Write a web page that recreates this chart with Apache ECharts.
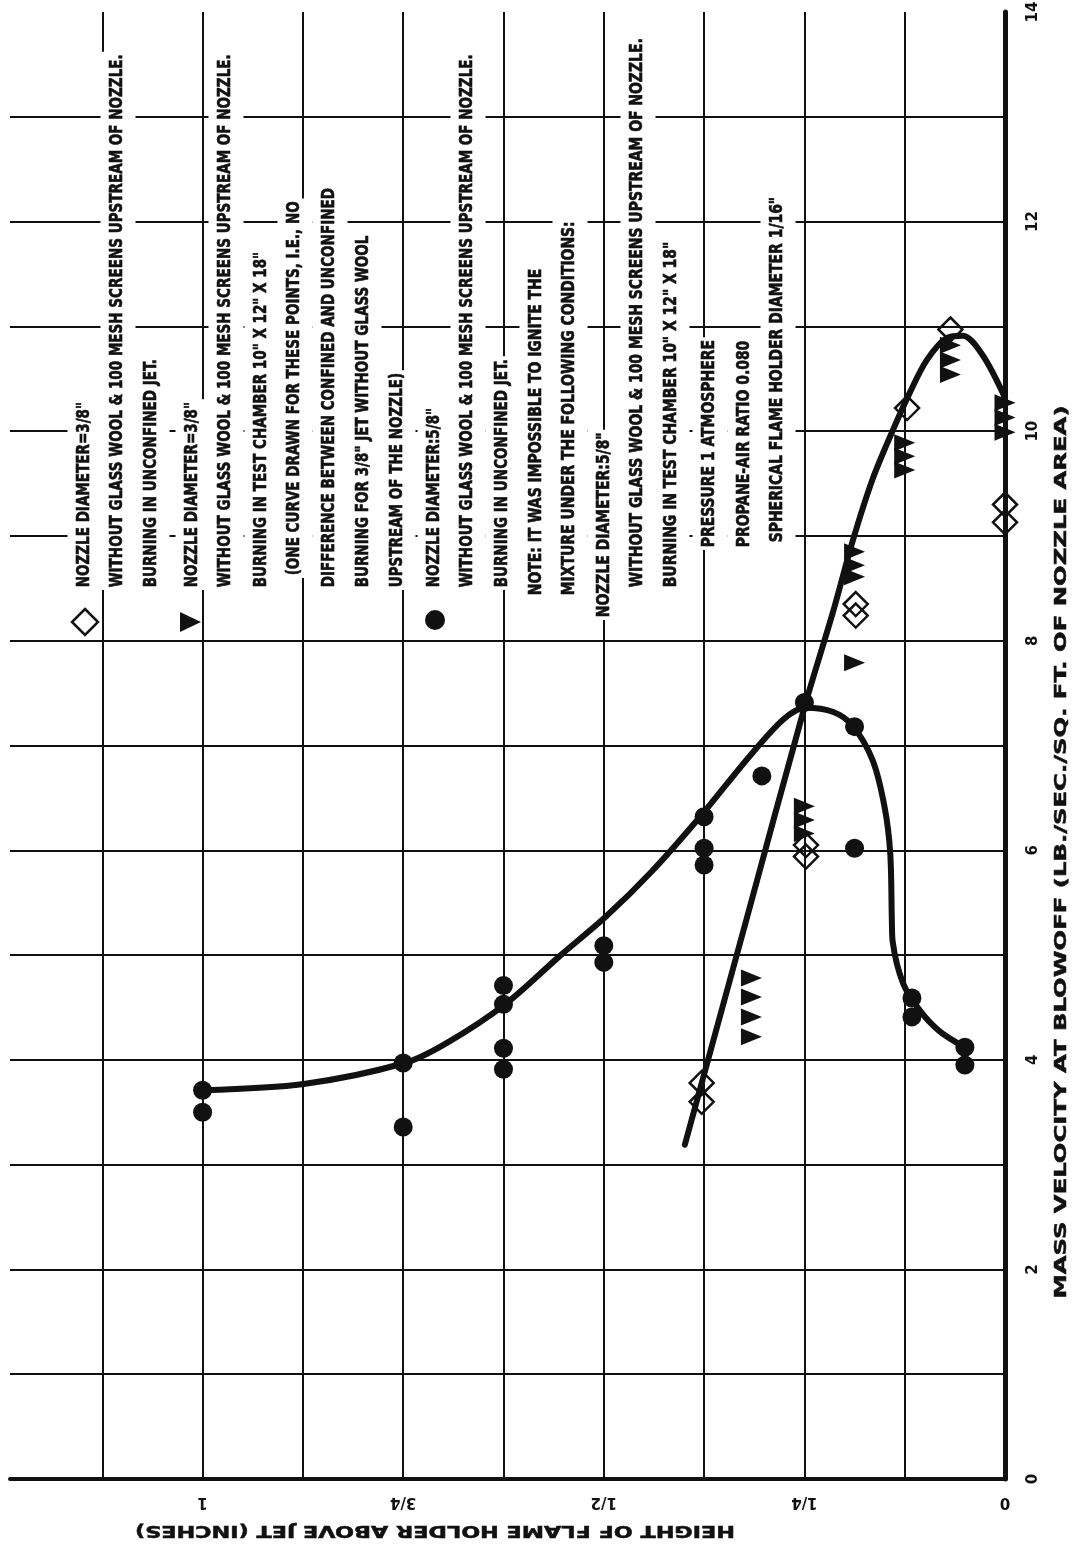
<!DOCTYPE html>
<html>
<head>
<meta charset="utf-8">
<title>Blowoff velocity vs. flame holder height</title>
<script src="https://cdn.jsdelivr.net/npm/echarts@6.0.0/dist/echarts.min.js"></script>
<style>
  html, body { margin: 0; padding: 0; background: #ffffff; }
  #chart { width: 1078px; height: 1547px; }
</style>
</head>
<body>
<div id="chart"></div>
<script>
// Height of flame holder above jet (inches) against mass velocity at blowoff.
// Points are [height, velocity].

const heightTicks = [0, 0.25, 0.5, 0.75, 1];
const heightTickLabels = ['0', '1/4', '1/2', '3/4', '1'];
const velocityTickStep = 2;

// Nozzle 3/8", unconfined jet (open diamonds)
const unconfined38 = [
  [0.068, 10.97], [0.122, 10.22], [0, 9.30], [0, 9.13],
  [0.186, 8.35], [0.186, 8.24], [0.248, 6.05], [0.248, 5.94],
  [0.378, 3.78], [0.378, 3.60]
];

// Nozzle 3/8", test chamber (filled triangles)
const chamber38 = [
  [0.068, 10.82], [0.068, 10.68], [0.068, 10.54],
  [0, 10.27], [0, 10.13], [0, 9.99],
  [0.125, 9.89], [0.125, 9.76], [0.125, 9.63],
  [0.1875, 8.85], [0.1875, 8.72], [0.1875, 8.61],
  [0.1875, 7.79],
  [0.25, 6.42], [0.25, 6.29], [0.25, 6.16],
  [0.316, 4.78], [0.316, 4.60], [0.316, 4.41], [0.316, 4.22]
];

// Nozzle 5/8", unconfined jet (filled circles)
const unconfined58 = [
  [1, 3.71], [1, 3.50],
  [0.75, 3.97], [0.75, 3.36],
  [0.625, 4.71], [0.625, 4.53], [0.625, 4.11], [0.625, 3.91],
  [0.5, 5.09], [0.5, 4.93],
  [0.375, 6.32], [0.375, 6.02], [0.375, 5.86],
  [0.303, 6.71],
  [0.25, 7.41],
  [0.1875, 7.18], [0.1875, 6.02],
  [0.116, 4.59], [0.116, 4.41],
  [0.05, 4.12], [0.05, 3.95]
];

// Faired curve through the 5/8" points
const curve58 = [
  [1.0, 3.71], [0.874, 3.77], [0.748, 3.97], [0.696, 4.16], [0.623, 4.53],
  [0.555, 4.99], [0.497, 5.37], [0.440, 5.80], [0.380, 6.32], [0.318, 6.90],
  [0.276, 7.25], [0.249, 7.36], [0.214, 7.32], [0.190, 7.19], [0.165, 6.86],
  [0.150, 6.41], [0.143, 5.97], [0.141, 5.33], [0.140, 5.13], [0.127, 4.73],
  [0.106, 4.47], [0.081, 4.27], [0.050, 4.12]
];

// Single curve for both 3/8" sets
const curve38 = [
  [0.399, 3.19], [0.324, 5.29], [0.249, 7.39], [0.2145, 8.27], [0.1895, 8.96],
  [0.1646, 9.55], [0.1397, 10.01], [0.1185, 10.37], [0.0973, 10.68],
  [0.0723, 10.89], [0.0524, 10.91], [0.0274, 10.72], [0, 10.32]
];

// Notes block: [line, column x, start y, letter scale] — each line reads bottom to top
const noteLines = [
  ['NOZZLE DIAMETER=3/8"', 85, 590, 1],
  ['WITHOUT GLASS WOOL & 100 MESH SCREENS UPSTREAM OF NOZZLE.', 118, 590, 1],
  ['BURNING IN UNCONFINED JET.', 152, 590, 1],
  ['NOZZLE DIAMETER=3/8"', 193, 590, 1],
  ['WITHOUT GLASS WOOL & 100 MESH SCREENS UPSTREAM OF NOZZLE.', 226, 590, 1],
  ['BURNING IN TEST CHAMBER 10" X 12" X 18"', 262, 590, 1],
  ['(ONE CURVE DRAWN FOR THESE POINTS, I.E., NO', 295, 578, 1],
  ['DIFFERENCE BETWEEN CONFINED AND UNCONFINED', 330, 590, 1],
  ['BURNING FOR 3/8" JET WITHOUT GLASS WOOL', 364, 590, 1],
  ['UPSTREAM OF THE NOZZLE)', 398, 590, 1],
  ['NOZZLE DIAMETER:5/8"', 435, 590, 1],
  ['WITHOUT GLASS WOOL & 100 MESH SCREENS UPSTREAM OF NOZZLE.', 468, 590, 1],
  ['BURNING IN UNCONFINED JET.', 503, 590, 1],
  ['NOTE: IT WAS IMPOSSIBLE TO IGNITE THE', 537, 598, 1.03],
  ['MIXTURE UNDER THE FOLLOWING CONDITIONS:', 570, 598, 1.03],
  ['NOZZLE DIAMETER:5/8"', 605, 620, 1.03],
  ['WITHOUT GLASS WOOL & 100 MESH SCREENS UPSTREAM OF NOZZLE.', 638, 590, 1.03],
  ['BURNING IN TEST CHAMBER 10" X 12" X 18"', 672, 590, 1.03],
  ['PRESSURE 1 ATMOSPHERE', 710, 550, 1.03],
  ['PROPANE-AIR RATIO 0.080', 745, 550, 1.03],
  ['SPHERICAL FLAME HOLDER DIAMETER 1/16"', 778, 545, 1.03]
];

const xTitle = 'MASS VELOCITY AT BLOWOFF (LB./SEC./SQ. FT. OF NOZZLE AREA)';
const yTitle = 'HEIGHT OF FLAME HOLDER ABOVE JET (INCHES)';

const INK = '#111111';
const NOTE_FONT = 'bold 17px "DejaVu Sans Condensed", "DejaVu Sans", sans-serif';
const TITLE_FONT = 'bold 16px "DejaVu Sans", sans-serif';

const measureCtx = document.createElement('canvas').getContext('2d');
function textWidth(str, font) {
  measureCtx.font = font;
  return measureCtx.measureText(str).width;
}

// Condensed lettering: the full-width note line runs about 533px
const noteScale = 533 / textWidth(noteLines[1][0], NOTE_FONT);

const noteGraphics = noteLines.map(([str, x, y, k]) => ({
  type: 'text',
  x: x,
  y: y,
  rotation: Math.PI / 2,
  scaleX: noteScale * k,
  z: 5,
  style: {
    text: str,
    font: NOTE_FONT,
    fill: INK,
    stroke: INK,
    lineWidth: 0.6,
    align: 'left',
    verticalAlign: 'middle',
    lineHeight: 17,
    backgroundColor: '#ffffff',
    padding: [9, 3]
  }
}));

const legendKeys = [
  { type: 'polygon', z: 6, shape: { points: [[85, 609], [98, 622], [85, 635], [72, 622]] },
    style: { fill: '#ffffff', stroke: INK, lineWidth: 2.5 } },
  { type: 'polygon', z: 6, shape: { points: [[180, 612], [201, 622], [180, 632]] },
    style: { fill: INK } },
  { type: 'circle', z: 6, shape: { cx: 435, cy: 620, r: 10 },
    style: { fill: INK } }
];

const titleGraphics = [
  {
    type: 'text', x: 1062, y: 852, rotation: Math.PI / 2, z: 5,
    scaleX: 893 / textWidth(xTitle, TITLE_FONT),
    style: { text: xTitle, font: TITLE_FONT, fill: INK, stroke: INK, lineWidth: 0.5,
             align: 'center', verticalAlign: 'middle' }
  },
  {
    type: 'text', x: 435, y: 1530, rotation: Math.PI, z: 5,
    scaleX: 600 / textWidth(yTitle, TITLE_FONT),
    style: { text: yTitle, font: TITLE_FONT, fill: INK, stroke: INK, lineWidth: 0.5,
             align: 'center', verticalAlign: 'middle' }
  }
];

const chart = echarts.init(document.getElementById('chart'), null, { renderer: 'canvas' });

chart.setOption({
  backgroundColor: '#ffffff',
  animation: false,
  grid: { left: 10, right: 73, top: 12, bottom: 68, outerBoundsMode: 'none', containLabel: false },
  xAxis: {
    type: 'value',
    min: 0,
    max: 1.24,
    interval: 0.125,
    inverse: true,
    position: 'bottom',
    axisLine: { show: true, onZero: false, lineStyle: { color: INK, width: 4 } },
    axisTick: { show: false },
    splitLine: { show: true, showMaxLine: false, lineStyle: { color: INK, width: 2 } },
    axisLabel: {
      rotate: 180,
      margin: 15,
      color: INK,
      fontSize: 15,
      fontWeight: 'bold',
      fontFamily: 'DejaVu Sans',
      formatter: (v) => {
        const i = heightTicks.findIndex(t => Math.abs(t - v) < 1e-6);
        return i >= 0 ? heightTickLabels[i] : '';
      }
    }
  },
  yAxis: {
    type: 'value',
    min: 0,
    max: 14,
    interval: 1,
    position: 'right',
    axisLine: { show: true, onZero: false, lineStyle: { color: INK, width: 5 } },
    axisTick: { show: false },
    splitLine: { show: true, showMaxLine: false, lineStyle: { color: INK, width: 2 } },
    axisLabel: {
      rotate: 90,
      margin: 21,
      color: INK,
      fontSize: 15,
      fontWeight: 'bold',
      fontFamily: 'DejaVu Sans',
      formatter: (v) => (Math.round(v) % velocityTickStep === 0 ? String(Math.round(v)) : '')
    }
  },
  graphic: { elements: [...noteGraphics, ...legendKeys, ...titleGraphics] },
  series: [
    {
      name: 'Nozzle 3/8", unconfined',
      type: 'scatter',
      data: unconfined38,
      symbol: 'diamond',
      symbolSize: 24,
      z: 3,
      itemStyle: { color: 'rgba(255,255,255,0)', borderColor: INK, borderWidth: 2.5, opacity: 1 }
    },
    {
      name: 'Nozzle 3/8", test chamber',
      type: 'scatter',
      data: chamber38,
      symbol: 'triangle',
      symbolSize: [17, 21],
      symbolRotate: -90,
      z: 3,
      itemStyle: { color: INK, opacity: 1 }
    },
    {
      name: 'Nozzle 5/8", unconfined',
      type: 'scatter',
      data: unconfined58,
      symbol: 'circle',
      symbolSize: 19,
      z: 3,
      itemStyle: { color: INK, opacity: 1 }
    },
    {
      name: 'Curve 5/8"',
      type: 'line',
      data: curve58,
      smooth: 0.3,
      showSymbol: false,
      z: 4,
      lineStyle: { color: INK, width: 6, cap: 'round' }
    },
    {
      name: 'Curve 3/8"',
      type: 'line',
      data: curve38,
      smooth: 0.3,
      showSymbol: false,
      z: 4,
      lineStyle: { color: INK, width: 6, cap: 'round' }
    }
  ]
});
</script>
</body>
</html>
